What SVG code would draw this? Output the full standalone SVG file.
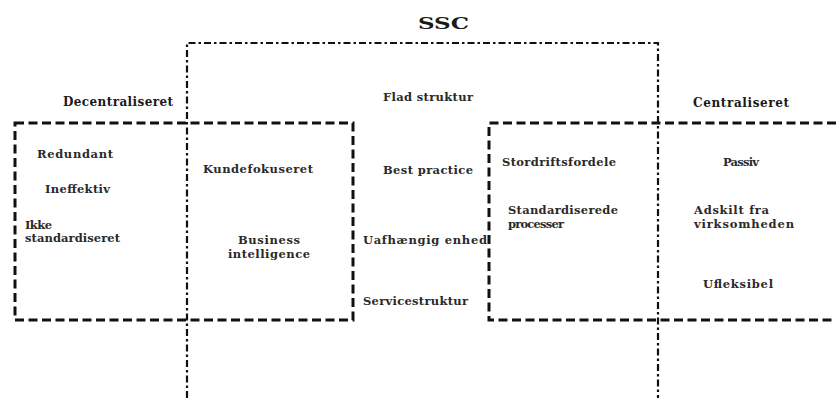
<svg xmlns="http://www.w3.org/2000/svg" width="836" height="398" viewBox="0 0 836 398">
<style>
.bg{fill:#fff}
.dashbox{fill:none;stroke:#111;stroke-width:3;stroke-dasharray:9 4.5}
.dashdot{fill:none;stroke:#111;stroke-width:2.2;stroke-dasharray:7 3 2.5 3}
.t{font-family:"DejaVu Serif","Liberation Serif",serif;font-weight:bold;font-size:11.5px;fill:#2a2a2a}
.h{font-family:"DejaVu Serif","Liberation Serif",serif;font-weight:bold;font-size:12px;fill:#1a1a1a}
.title{font-family:"DejaVu Serif","Liberation Serif",serif;font-weight:bold;font-size:16px;fill:#1a1a1a}
</style>
<rect class="bg" x="0" y="0" width="836" height="398"/>
<g id="ssc">
  <path class="dashdot" d="M187,398 V43 H658 V398"/>
  <text class="title" x="418" y="29" textLength="51" lengthAdjust="spacingAndGlyphs">SSC</text>
  <text class="t" x="383" y="101" textLength="90">Flad struktur</text>
  <text class="t" x="383" y="174" textLength="90">Best practice</text>
  <text class="t" x="363" y="244" textLength="124">Uafhængig enhed</text>
  <text class="t" x="363" y="305" textLength="105">Servicestruktur</text>
</g>
<g id="decentraliseret">
  <path class="dashbox" d="M15,123 H353 V320 H15 Z"/>
  <text class="h" x="63" y="106" textLength="110">Decentraliseret</text>
  <text class="t" x="37" y="158" textLength="76">Redundant</text>
  <text class="t" x="45" y="193" textLength="65">Ineffektiv</text>
  <text class="t" x="25" y="229" textLength="27">Ikke</text>
  <text class="t" x="25" y="242" textLength="95">standardiseret</text>
  <text class="t" x="203" y="173" textLength="110">Kundefokuseret</text>
  <text class="t" x="238" y="244" textLength="62">Business</text>
  <text class="t" x="228" y="258" textLength="82">intelligence</text>
</g>
<g id="centraliseret">
  <path class="dashbox" d="M836,123 H489 V320 H836"/>
  <text class="h" x="693" y="107" textLength="96">Centraliseret</text>
  <text class="t" x="502" y="166" textLength="114">Stordriftsfordele</text>
  <text class="t" x="508" y="214" textLength="110">Standardiserede</text>
  <text class="t" x="508" y="228" textLength="56">processer</text>
  <text class="t" x="723" y="166" textLength="36">Passiv</text>
  <text class="t" x="694" y="214" textLength="75">Adskilt fra</text>
  <text class="t" x="694" y="228" textLength="100">virksomheden</text>
  <text class="t" x="703" y="288" textLength="70">Ufleksibel</text>
</g>
<g id="connectors"></g>
</svg>
